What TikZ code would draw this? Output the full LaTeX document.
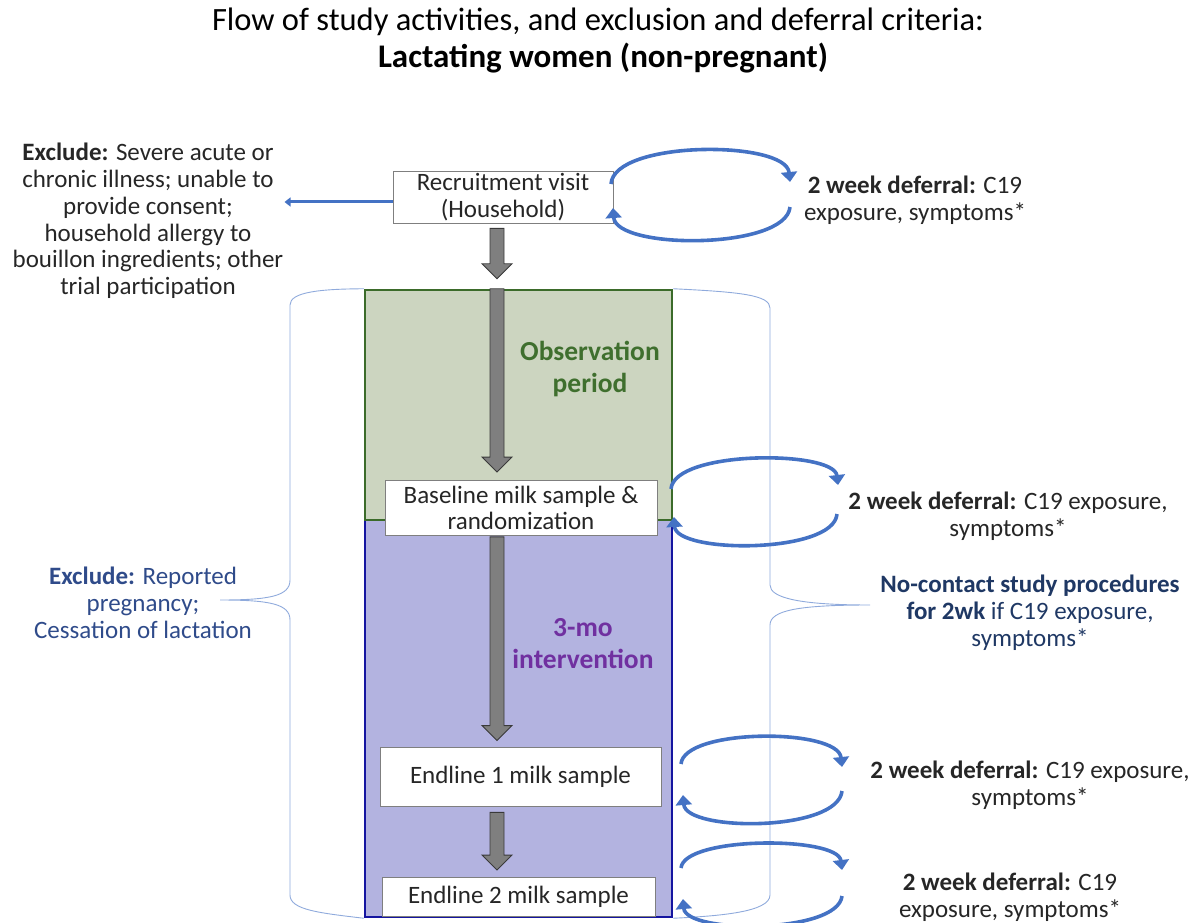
\documentclass[tikz,border=0pt]{standalone}
\usepackage{fontspec}
\setmainfont{Carlito}
\usetikzlibrary{arrows.meta,calc}
\definecolor{txt}{HTML}{262626}
\definecolor{lblue}{HTML}{4472C4}
\definecolor{brace}{HTML}{8FAADC}
\definecolor{obsfill}{HTML}{CCD5C0}
\definecolor{obsdraw}{HTML}{3B6B2A}
\definecolor{obstext}{HTML}{3F6F2E}
\definecolor{intfill}{HTML}{B3B3E0}
\definecolor{intdraw}{HTML}{1515A0}
\definecolor{inttext}{HTML}{7030A0}
\definecolor{navy}{HTML}{1F3864}
\definecolor{lnavy}{HTML}{2F4B8A}
\definecolor{arrfill}{HTML}{7F7F7F}
\definecolor{arrdraw}{HTML}{3A3A3A}
\newcommand\fs{\fontsize{25}{26.8}\selectfont}
\newcommand\blockarrow[2]{%
  \path[blockarr] let \p1=#1, \p2=#2 in
   (\x1-7pt,\y1) -- (\x1+7pt,\y1) -- (\x1+7pt,\y2+15pt) -- (\x1+15pt,\y2+15pt)
   -- (\x1,\y2) -- (\x1-15pt,\y2+15pt) -- (\x1-7pt,\y2+15pt) -- cycle;}
\begin{document}
\begin{tikzpicture}[x=1pt,y=-1pt,
  stepbox/.style={draw=arrfill, line width=0.8pt, fill=white, text=txt, font=\fs, align=center, inner sep=0pt},
  plain/.style={text=txt, font=\fs, align=center, inner sep=1pt},
  blockarr/.style={fill=arrfill, draw=arrdraw, line width=0.9pt},
  loopline/.style={draw=lblue, line width=3.6pt, -{Triangle[width=16pt,length=10pt]}},
  bracestyle/.style={draw=brace, line width=0.9pt},
]
\useasboundingbox (0,0) rectangle (1203,923);

% title
\node[text=black, font=\fontsize{32.5}{36}\selectfont, inner sep=0pt] (t1) at (598,22) {Flow of study activities, and exclusion and deferral criteria:};
\node[text=black, font=\fontsize{33}{36}\selectfont\bfseries, inner sep=0pt] (t2) at (603,58) {Lactating women (non-pregnant)};

% period boxes
\node[draw=intdraw, fill=intfill, line width=2.5pt, minimum width=307pt, minimum height=397pt, inner sep=0pt] (int) at (518.5,718.5) {};
\node[draw=obsdraw, fill=obsfill, line width=2.5pt, minimum width=307pt, minimum height=230pt, inner sep=0pt] (obs) at (518.5,405) {};

\node[text=obstext, font=\fontsize{27.5}{32}\selectfont\bfseries, align=center] (obsl) at (590,369) {Observation\\period};
\node[text=inttext, font=\fontsize{27.5}{32}\selectfont\bfseries, align=center] (intl) at (583,644) {3-mo\\intervention};

% step boxes
\node[stepbox, minimum width=220pt, minimum height=52pt] (rec) at (503,197) {Recruitment visit\\(Household)};
\node[stepbox, minimum width=272pt, minimum height=55pt] (base) at (521,508) {Baseline milk sample \&\\randomization};
\node[stepbox, minimum width=281pt, minimum height=59pt] (end1) at (520.5,776.5) {Endline 1 milk sample};
\node[stepbox, minimum width=273pt, minimum height=39pt] (end2) at (518.5,897) {Endline 2 milk sample};

% block arrows
\coordinate (axis) at (497,0);
\blockarrow{($(axis |- rec.south)+(0,5)$)}{($(axis |- obs.north)+(0,-10)$)}
\blockarrow{(axis |- obs.north)}{($(axis |- base.north)+(0,-8)$)}
\blockarrow{($(axis |- base.south)+(0,1)$)}{($(axis |- end1.north)+(0,-6)$)}
\blockarrow{($(axis |- end1.south)+(0,6)$)}{($(axis |- end2.north)+(0,-7)$)}

% left exclusion
\node[plain] (excl) at (148,221) {\textbf{Exclude:} Severe acute or\\chronic illness; unable to\\provide consent;\\household allergy to\\bouillon ingredients; other\\trial participation};
\draw[draw=lblue, line width=3pt, -{Triangle[width=9pt,length=6pt]}] (rec.west |- 0,202) -- (excl.east |- 0,202);

\node[plain, text=lnavy] (excl2) at (143,603) {\textbf{Exclude:} Reported\\pregnancy;\\Cessation of lactation};

% braces
\coordinate (lbt) at (220,600);
\draw[bracestyle] (obs.north west) .. controls (320,289) and (290,292) .. (290,305) -- (290,580)
   .. controls (290,596) and (270,600) .. (lbt)
   .. controls (270,600) and (290,604) .. (290,620) -- (290,895)
   .. controls (290,910) and (320,913) .. (int.south west);
\coordinate (rbt) at (870,605);
\draw[bracestyle] (obs.north east) .. controls (740,292) and (770,295) .. (770,308) -- (770,585)
   .. controls (770,598) and (800,605) .. (rbt)
   .. controls (800,605) and (770,610) .. (770,625) -- (770,895)
   .. controls (770,912) and (720,916) .. (int.south east);

% right texts
\node[plain] (d1) at (915,200) {\textbf{2 week deferral:} C19\\exposure, symptoms*};
\node[plain] (d2) at (1008,516) {\textbf{2 week deferral:} C19 exposure,\\symptoms*};
\node[plain, text=navy] (nc) at (1030,613) {\textbf{No-contact study procedures}\\\textbf{for 2wk} if C19 exposure,\\symptoms*};
\node[plain] (d3) at (1030,785) {\textbf{2 week deferral:} C19 exposure,\\symptoms*};
\node[plain] (d4) at (1010,897) {\textbf{2 week deferral:} C19\\exposure, symptoms*};

% loops
\coordinate (l1a) at (611,184); \coordinate (l1b) at (790,182);
\coordinate (l1c) at (790,207); \coordinate (l1d) at (613,208);
\draw[loopline] (l1a) .. controls (614,140) and (786,140) .. (l1b);
\draw[loopline] (l1c) .. controls (786,250) and (616,250) .. (l1d);

\coordinate (l2a) at (671,489); \coordinate (l2b) at (838,485);
\coordinate (l2c) at (837,514); \coordinate (l2d) at (674,517);
\draw[loopline] (l2a) .. controls (674,450) and (834,450) .. (l2b);
\draw[loopline] (l2c) .. controls (834,554) and (676,554) .. (l2d);

\coordinate (l3a) at (681,764); \coordinate (l3b) at (842,767);
\coordinate (l3c) at (842,791); \coordinate (l3d) at (683,795);
\draw[loopline] (l3a) .. controls (684,728) and (838,728) .. (l3b);
\draw[loopline] (l3c) .. controls (838,832) and (686,832) .. (l3d);

\coordinate (l4a) at (681,868); \coordinate (l4b) at (842,870);
\coordinate (l4c) at (842,896); \coordinate (l4d) at (683,899);
\draw[loopline] (l4a) .. controls (684,836) and (838,836) .. (l4b);
\draw[loopline] (l4c) .. controls (838,934) and (686,934) .. (l4d);
\end{tikzpicture}
\end{document}
